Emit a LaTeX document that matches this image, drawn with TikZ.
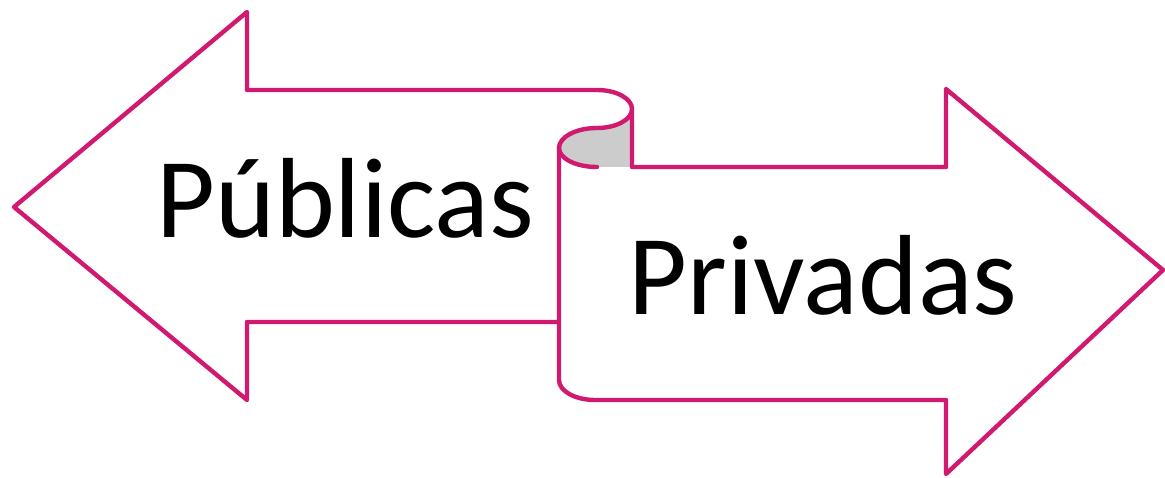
\documentclass[tikz,border=0pt]{standalone}
\usepackage{fontspec}
\setmainfont{Carlito}
\definecolor{arrowpink}{HTML}{D11A6F}
\definecolor{curlgray}{HTML}{CCCCCC}
\begin{document}
\begin{tikzpicture}[x=1pt,y=-1pt,
  outline/.style={draw=arrowpink,line width=4.4pt,line join=round,line cap=round},
  label/.style={font=\fontsize{114}{120}\selectfont,anchor=base,inner sep=0pt}]
\useasboundingbox (0,0) rectangle (1165,478);
% grey inside of the curl
\fill[curlgray] (559,148) .. controls (559,158.5) and (576,167) .. (597,167) -- (632,167) -- (632,109)
  .. controls (632,119.5) and (616.3,128) .. (597,128) .. controls (576,128) and (559,137) .. (559,148) -- cycle;
% left arrow, scroll and right arrow
\draw[outline] (559,322) -- (247,322) -- (247,400) -- (14,207) -- (247,12) -- (247,90) -- (597,90)
  .. controls (616.3,90) and (632,98.5) .. (632,109)
  .. controls (632,119.5) and (616.3,128) .. (597,128)
  .. controls (576,128) and (559,137) .. (559,148)
  -- (559,380) .. controls (559,391) and (575,400) .. (595,400)
  -- (946,400) -- (946,474) -- (1163,270) -- (946,89) -- (946,167) -- (632,167) -- (632,109);
\draw[outline] (559,148) .. controls (559,158.5) and (576,167) .. (597,167);
\node[label] (pub) at (345,238) {Públicas};
\node[label] (priv) at (823,315) {Privadas};
\end{tikzpicture}
\end{document}
